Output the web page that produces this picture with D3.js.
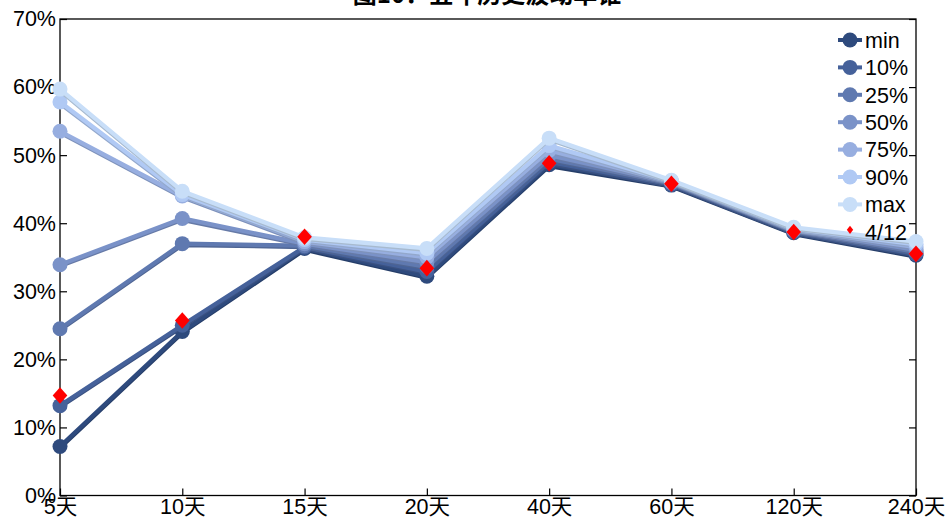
<!DOCTYPE html>
<html><head><meta charset="utf-8">
<script src="https://cdn.jsdelivr.net/npm/d3@7"></script>
<style>body{margin:0;background:#fff;}svg{display:block;font-family:"Liberation Sans",Arial,sans-serif;}</style>
</head><body>
<svg id="c" width="951" height="524"></svg>
<script>
const categories = ["5天","10天","15天","20天","40天","60天","120天","240天"];
const seriesNames = ["min","10%","25%","50%","75%","90%","max"];
const seriesColors = ["#2E4A7D","#45619A","#5F79B0","#7A92C8","#97AEE0","#B0C9F4","#C8DEF8"];
const sMin = [7.2,24.1,36.3,32.2,48.6,45.6,38.6,35.3];
const s10  = [13.2,25.0,36.5,32.9,49.0,45.7,38.7,35.5];
const s25  = [24.5,37.0,36.7,33.6,49.5,45.9,38.9,35.8];
const s50  = [33.9,40.7,37.0,34.3,50.0,46.0,39.0,36.1];
const s75  = [53.5,44.0,37.3,35.0,50.7,46.1,39.1,36.5];
const s90  = [57.8,44.2,37.6,35.6,51.4,46.2,39.2,36.9];
const sMax = [59.7,44.7,37.9,36.3,52.5,46.3,39.4,37.3];
const current = [14.7,25.7,38.0,33.4,48.8,45.8,38.7,35.5];
const currentName = "4/12";
const yTicks = [0,10,20,30,40,50,60,70];
const title = "图10：五年历史波动率锥";
const allSeries = [sMin,s10,s25,s50,s75,s90,sMax];

const svg = d3.select("#c");
const L=60,R=916,T=19,B=495.5;
const x = d3.scalePoint().domain(categories).range([L,R]).padding(0);
const y = d3.scaleLinear().domain([0,70]).range([B,T]);

svg.append("text").attr("x",487).attr("y",3).attr("text-anchor","middle")
  .attr("font-size",24).attr("font-weight","bold").attr("font-family","'Noto Sans CJK SC',sans-serif").text(title);

// frame
svg.append("rect").attr("x",L).attr("y",T).attr("width",R-L).attr("height",B-T)
  .attr("fill","none").attr("stroke","#000").attr("stroke-width",1.3);

// left axis
const la = svg.append("g").attr("transform",`translate(${L},0)`)
  .call(d3.axisLeft(y).tickValues(yTicks).tickFormat(d=>d+"%").tickSize(-7).tickPadding(3));
la.select(".domain").remove();
la.selectAll("line").attr("stroke","#000").attr("stroke-width",1.2);
la.selectAll("text").attr("font-size",21.5).attr("fill","#000").attr("font-family","'Liberation Sans',Arial,sans-serif").attr("x",-4);
// right ticks
const ra = svg.append("g").attr("transform",`translate(${R},0)`)
  .call(d3.axisRight(y).tickValues(yTicks).tickFormat("").tickSize(-7));
ra.select(".domain").remove();
ra.selectAll("line").attr("stroke","#000").attr("stroke-width",1.2);
// bottom axis
const ba = svg.append("g").attr("transform",`translate(0,${B})`)
  .call(d3.axisBottom(x).tickSize(-7).tickPadding(5));
ba.select(".domain").remove();
ba.selectAll("line").attr("stroke","#000").attr("stroke-width",1.2);
ba.selectAll("text").attr("font-size",21.5).attr("fill","#000").attr("font-family","'Liberation Sans','Noto Sans CJK SC',sans-serif").attr("y",3).attr("dy","0.71em");

const line = d3.line().x((d,i)=>x(categories[i])).y(d=>y(d));
const plot = svg.append("g");
allSeries.forEach((s,k)=>{
  const c = d3.color(seriesColors[k]).darker(0.5).formatHex();
  plot.append("path").datum(s).attr("d",line).attr("fill","none")
    .attr("stroke",c).attr("stroke-width",4).attr("transform","translate(0,1.5)").attr("stroke-linejoin","round");
  plot.append("path").datum(s).attr("d",line).attr("fill","none")
    .attr("stroke",seriesColors[k]).attr("stroke-width",4.3).attr("stroke-linejoin","round");
  plot.selectAll(null).data(s).enter().append("circle")
    .attr("cx",(d,i)=>x(categories[i])).attr("cy",d=>y(d)).attr("r",7.5)
    .attr("fill",seriesColors[k]);
});
const dia = d3.symbol().type(d3.symbolDiamond).size(110);
plot.selectAll(null).data(current).enter().append("path")
  .attr("d",dia).attr("transform",(d,i)=>`translate(${x(categories[i])},${y(d)}) scale(1.3,0.85)`)
  .attr("fill","#FF0000");

// legend
const leg = svg.append("g");
const ly0=40, ldy=27.4;
seriesNames.forEach((n,k)=>{
  const yy = ly0+k*ldy;
  leg.append("line").attr("x1",838).attr("x2",862).attr("y1",yy).attr("y2",yy)
    .attr("stroke",seriesColors[k]).attr("stroke-width",4);
  leg.append("circle").attr("cx",850).attr("cy",yy).attr("r",7.5).attr("fill",seriesColors[k]);
  leg.append("text").attr("x",865).attr("y",yy).attr("dy","0.36em").attr("font-size",21.5).text(n);
});
const yy = ly0+7*ldy;
leg.append("path").attr("d",d3.symbol().type(d3.symbolDiamond).size(24))
  .attr("transform",`translate(850,${yy-2}) scale(1.2,0.9)`).attr("fill","#FF0000");
leg.append("text").attr("x",865).attr("y",yy).attr("dy","0.36em").attr("font-size",21.5).text(currentName);
</script>
</body></html>
